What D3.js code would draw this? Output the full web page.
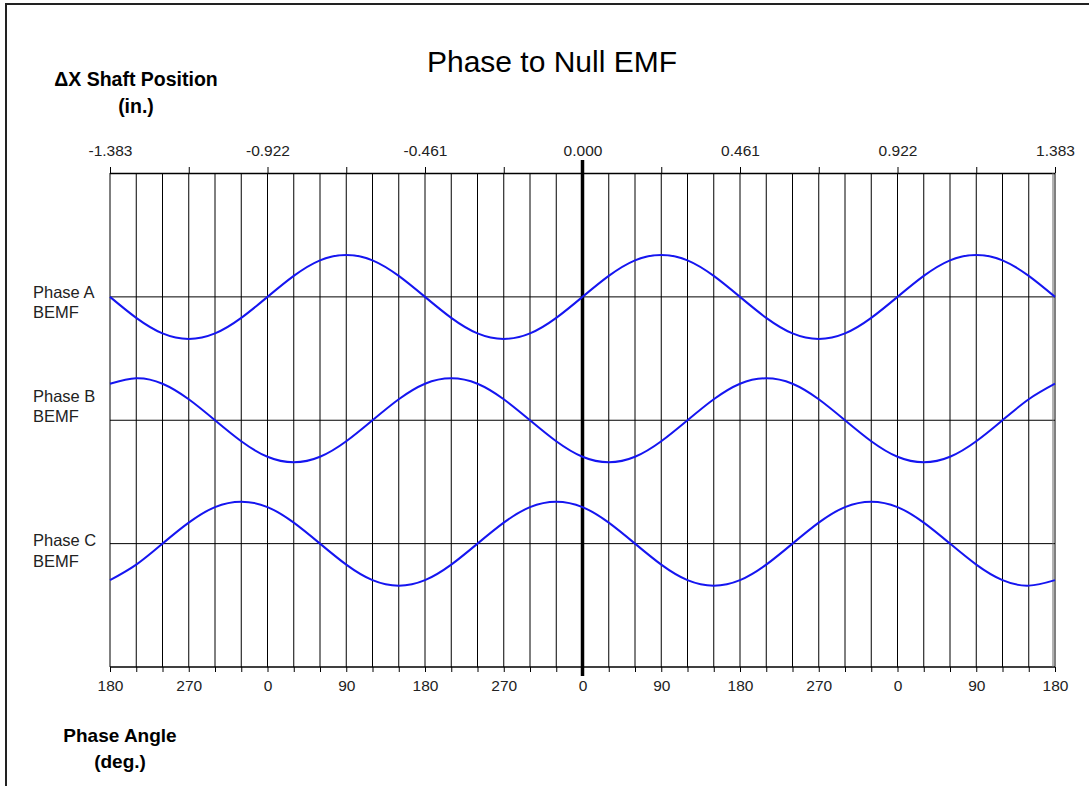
<!DOCTYPE html>
<html>
<head>
<meta charset="utf-8">
<script src="https://cdn.jsdelivr.net/npm/d3@7"></script>
<style>
  body { margin: 0; background: #fff; }
  text { font-family: "Liberation Sans", Arial, sans-serif; }
</style>
</head>
<body>
<div id="chart"></div>
<script>
// Phase angle labels along the bottom (every 90 deg), shaft position labels on top
var bottomLabels = ["180", "270", "0", "90", "180", "270", "0", "90", "180", "270", "0", "90", "180"];
var topLabels = ["-1.383", "-0.922", "-0.461", "0.000", "0.461", "0.922", "1.383"];
var phaseNames = ["Phase A", "Phase B", "Phase C"];

// BEMF values read at every 30 deg grid line, starting at the left edge (180 deg)
var phaseA = [0, -0.5, -0.87, -1, -0.87, -0.5, 0, 0.5, 0.87, 1, 0.87, 0.5,
              0, -0.5, -0.87, -1, -0.87, -0.5, 0, 0.5, 0.87, 1, 0.87, 0.5,
              0, -0.5, -0.87, -1, -0.87, -0.5, 0, 0.5, 0.87, 1, 0.87, 0.5, 0];
var phaseB = [0.87, 1, 0.87, 0.5, 0, -0.5, -0.87, -1, -0.87, -0.5, 0, 0.5,
              0.87, 1, 0.87, 0.5, 0, -0.5, -0.87, -1, -0.87, -0.5, 0, 0.5,
              0.87, 1, 0.87, 0.5, 0, -0.5, -0.87, -1, -0.87, -0.5, 0, 0.5, 0.87];
var phaseC = [-0.87, -0.5, 0, 0.5, 0.87, 1, 0.87, 0.5, 0, -0.5, -0.87, -1,
              -0.87, -0.5, 0, 0.5, 0.87, 1, 0.87, 0.5, 0, -0.5, -0.87, -1,
              -0.87, -0.5, 0, 0.5, 0.87, 1, 0.87, 0.5, 0, -0.5, -0.87, -1, -0.87];
var series = [phaseA, phaseB, phaseC];

var width = 1089, height = 786;
var plotLeft = 110, plotRight = 1055, plotTop = 173, plotBottom = 667;
var step = 30;

var svg = d3.select("#chart").append("svg")
    .attr("width", width)
    .attr("height", height);

// frame (top and left only)
svg.append("path")
    .attr("d", "M6,786V4H1089")
    .attr("fill", "none")
    .attr("stroke", "#222")
    .attr("stroke-width", 2);

var x = d3.scaleLinear().domain([0, (phaseA.length - 1) * step]).range([plotLeft, plotRight]);
var xIn = d3.scaleLinear().domain([-1.383, 1.383]).range([plotLeft, plotRight]);
var y = d3.scaleLinear().domain([0, 4]).range([plotTop + 0.5, plotBottom]);
var amp = d3.scaleLinear().domain([-1, 1]).range([42, -42]);

var gridDeg = d3.range(0, (phaseA.length - 1) * step + 1, step);

// vertical grid
svg.append("g").selectAll("line")
    .data(gridDeg)
    .enter()
    .append("line")
    .attr("x1", function(d) { return x(d); })
    .attr("x2", function(d) { return x(d); })
    .attr("y1", plotTop)
    .attr("y2", plotBottom)
    .attr("stroke", "#000")
    .attr("stroke-width", 1);

// horizontal lines: top, three baselines, bottom
svg.append("g").selectAll("line")
    .data([0, 1, 2, 3, 4])
    .enter()
    .append("line")
    .attr("x1", plotLeft)
    .attr("x2", plotRight)
    .attr("y1", function(d) { return y(d); })
    .attr("y2", function(d) { return y(d); })
    .attr("stroke", "#000")
    .attr("stroke-width", function(d) { return (d === 0 || d === 4) ? 1.5 : 1; });

svg.append("line")
    .attr("x1", plotRight - 2).attr("x2", plotRight - 2)
    .attr("y1", plotTop).attr("y2", plotBottom)
    .attr("stroke", "#666").attr("stroke-width", 1);

// bottom axis
var bottomAxis = d3.axisBottom(x)
    .tickValues(gridDeg)
    .tickSize(5)
    .tickPadding(8)
    .tickFormat(function(d) { return d % 90 === 0 ? bottomLabels[d / 90] : ""; });

var gb = svg.append("g")
    .attr("transform", "translate(0," + plotBottom + ")")
    .call(bottomAxis);
gb.select(".domain").remove();
gb.selectAll("line").attr("stroke", "#000");
gb.selectAll("text")
    .attr("font-size", "15.5px")
    .attr("fill", "#222")
    .attr("font-family", "Liberation Sans, Arial, sans-serif");

// top axis
var topTicks = d3.range(0, topLabels.length * 2 - 1).map(function(i) {
    return -1.383 + i * (1.383 / 6);
});
var topAxis = d3.axisTop(xIn)
    .tickValues(topTicks)
    .tickSize(6)
    .tickPadding(11)
    .tickFormat(function(d, i) { return i % 2 === 0 ? topLabels[i / 2] : ""; });

var gt = svg.append("g")
    .attr("transform", "translate(0," + plotTop + ")")
    .call(topAxis);
gt.select(".domain").remove();
gt.selectAll("line").attr("stroke", "#000");
gt.selectAll("text")
    .attr("font-size", "15.5px")
    .attr("fill", "#222")
    .attr("font-family", "Liberation Sans, Arial, sans-serif");

// thick zero line
svg.append("line")
    .attr("x1", xIn(0)).attr("x2", xIn(0))
    .attr("y1", plotTop - 13).attr("y2", plotBottom + 9)
    .attr("stroke", "#000")
    .attr("stroke-width", 3.5);

// BEMF curves
var line = d3.line()
    .x(function(d, i) { return x(i * step); })
    .curve(d3.curveNatural);

svg.append("g").selectAll("path")
    .data(series)
    .enter()
    .append("path")
    .attr("d", function(s, k) {
        return line.y(function(d) { return y(k + 1) + amp(d); })(s);
    })
    .attr("fill", "none")
    .attr("stroke", "#1515f0")
    .attr("stroke-width", 2);

// phase labels
var labelY = [[298, 318], [401.5, 421.5], [546, 567]];
phaseNames.forEach(function(n, k) {
    var t = svg.append("text")
        .attr("x", 33)
        .attr("font-size", "16.5px")
        .attr("fill", "#222");
    t.append("tspan").attr("x", 33).attr("y", labelY[k][0]).text(n);
    t.append("tspan").attr("x", 33).attr("y", labelY[k][1]).text("BEMF");
});

// titles
svg.append("text")
    .attr("x", 552).attr("y", 72)
    .attr("text-anchor", "middle")
    .attr("font-size", "30px")
    .text("Phase to Null EMF");

svg.append("text")
    .attr("x", 136).attr("y", 86)
    .attr("text-anchor", "middle")
    .attr("font-size", "19.5px")
    .attr("font-weight", "bold")
    .text("\u0394X Shaft Position");
svg.append("text")
    .attr("x", 136).attr("y", 113)
    .attr("text-anchor", "middle")
    .attr("font-size", "19.5px")
    .attr("font-weight", "bold")
    .text("(in.)");

svg.append("text")
    .attr("x", 120).attr("y", 742)
    .attr("text-anchor", "middle")
    .attr("font-size", "19px")
    .attr("font-weight", "bold")
    .text("Phase Angle");
svg.append("text")
    .attr("x", 120).attr("y", 768)
    .attr("text-anchor", "middle")
    .attr("font-size", "19px")
    .attr("font-weight", "bold")
    .text("(deg.)");
</script>
</body>
</html>
